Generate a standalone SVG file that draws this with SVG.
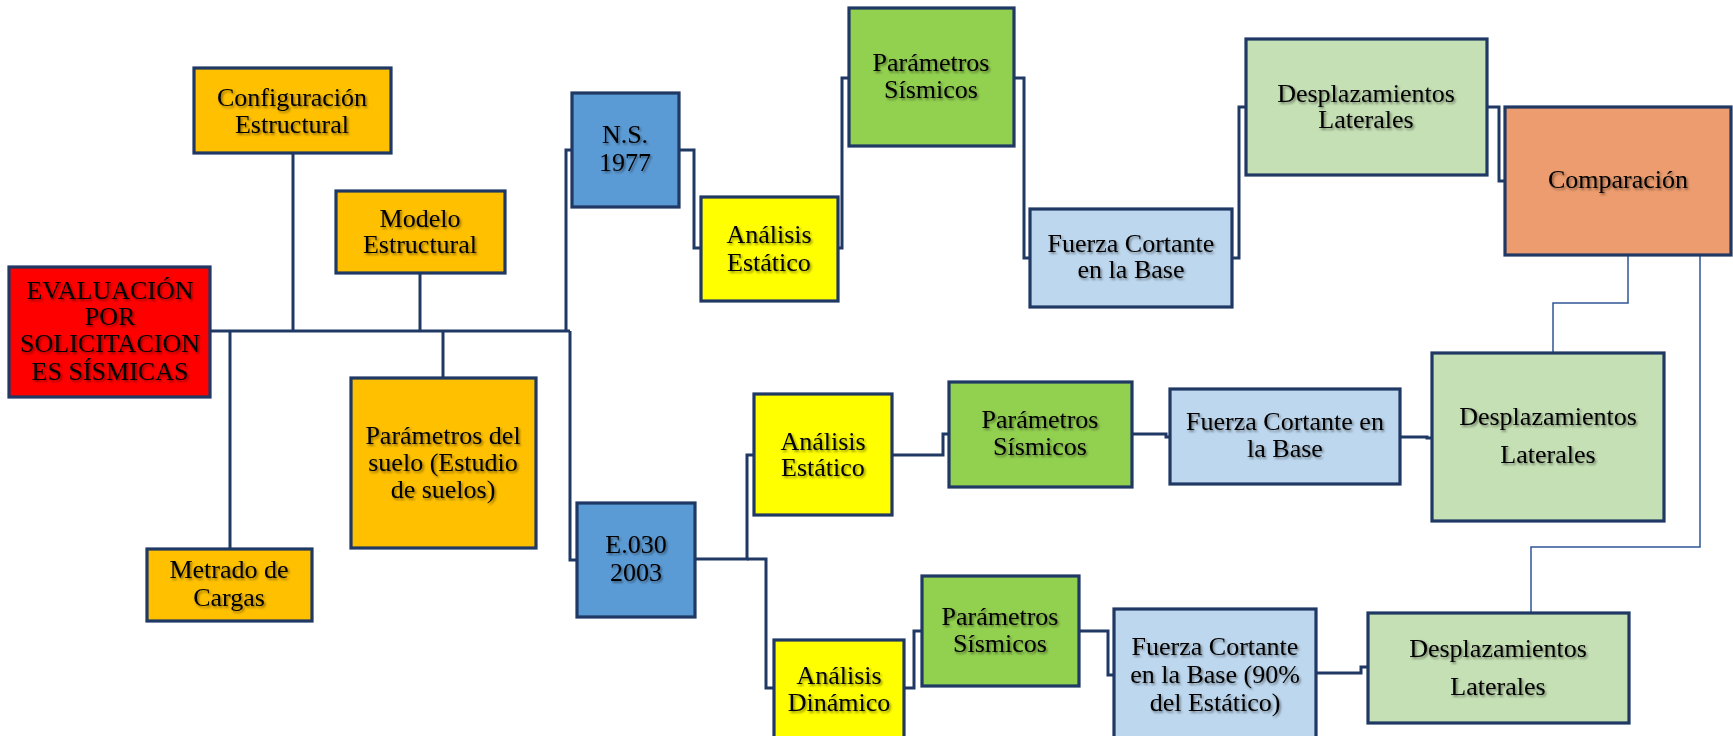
<svg xmlns="http://www.w3.org/2000/svg" width="1733" height="736" viewBox="0 0 1733 736">
<defs>
<filter id="sh" x="-10%" y="-20%" width="120%" height="150%">
<feDropShadow dx="1.5" dy="1.8" stdDeviation="1.2" flood-color="#000" flood-opacity="0.45"/>
</filter>
</defs>
<style>
.box{stroke:#1F3864;stroke-width:3.2}
.red{fill:#FF0000}.org{fill:#FFC000}.blu{fill:#5B9BD5}.yel{fill:#FFFF00}
.grn{fill:#92D050}.lbl{fill:#BDD7EE}.lgr{fill:#C5E0B4}.cmp{fill:#EC9C6E}
text{font-family:"Liberation Serif","Times New Roman",serif;font-size:26px;fill:#000;text-anchor:middle;filter:url(#sh)}
.c{fill:none;stroke:#1F3864;stroke-width:3}
.t{fill:none;stroke:#2F5597;stroke-width:1.5}
</style>
<g id="connectors">
<path class="c" d="M210,331 H570"/>
<path class="c" d="M293,153 V331"/>
<path class="c" d="M420,273 V331"/>
<path class="c" d="M230,331 V549"/>
<path class="c" d="M443,331 V378"/>
<path class="c" d="M566,331 V150 H572"/>
<path class="c" d="M570,331 V560 H577"/>
<path class="c" d="M679,150 H694 V248 H701"/>
<path class="c" d="M838,248 H842 V78 H849"/>
<path class="c" d="M1014,78 H1024 V258 H1030"/>
<path class="c" d="M1232,258 H1239 V107 H1246"/>
<path class="c" d="M1487,107 H1499 V181 H1505"/>
<path class="c" d="M695,559 H747 V455 H754"/>
<path class="c" d="M747,559 H766 V688 H774"/>
<path class="c" d="M892,455 H943 V434 H949"/>
<path class="c" d="M1132,434 H1166 V437 H1170"/>
<path class="c" d="M1400,437 H1427 V438 H1432"/>
<path class="c" d="M904,688 H914 V631 H922"/>
<path class="c" d="M1079,631 H1108 V675 H1114"/>
<path class="c" d="M1316,673 H1361 V667 H1368"/>
<path class="t" d="M1628,255 V303 H1553 V353"/>
<path class="t" d="M1700,255 V547 H1531 V613"/>
</g>
<g id="eval"><rect class="box red" x="9" y="267" width="201" height="130"/>
<text x="110" y="299">EVALUACIÓN</text><text x="110" y="325">POR</text><text x="110" y="352">SOLICITACION</text><text x="110" y="380">ES SÍSMICAS</text></g>
<g id="config"><rect class="box org" x="194" y="68" width="197" height="85"/>
<text x="292" y="106">Configuración</text><text x="292" y="133">Estructural</text></g>
<g id="modelo"><rect class="box org" x="336" y="191" width="169" height="82"/>
<text x="420" y="227">Modelo</text><text x="420" y="253">Estructural</text></g>
<g id="suelo"><rect class="box org" x="351" y="378" width="185" height="170"/>
<text x="443" y="444">Parámetros del</text><text x="443" y="471">suelo (Estudio</text><text x="443" y="498">de suelos)</text></g>
<g id="metrado"><rect class="box org" x="147" y="549" width="165" height="72"/>
<text x="229" y="578">Metrado de</text><text x="229" y="606">Cargas</text></g>
<g id="ns1977"><rect class="box blu" x="572" y="93" width="107" height="114"/>
<text x="625" y="143">N.S.</text><text x="625" y="171">1977</text></g>
<g id="e030"><rect class="box blu" x="577" y="503" width="118" height="114"/>
<text x="636" y="553">E.030</text><text x="636" y="581">2003</text></g>
<g id="ae1"><rect class="box yel" x="701" y="197" width="137" height="104"/>
<text x="769" y="243">Análisis</text><text x="769" y="271">Estático</text></g>
<g id="ps1"><rect class="box grn" x="849" y="8" width="165" height="138"/>
<text x="931" y="71">Parámetros</text><text x="931" y="98">Sísmicos</text></g>
<g id="fc1"><rect class="box lbl" x="1030" y="209" width="202" height="98"/>
<text x="1131" y="252">Fuerza Cortante</text><text x="1131" y="278">en la Base</text></g>
<g id="dl1"><rect class="box lgr" x="1246" y="39" width="241" height="136"/>
<text x="1366" y="102">Desplazamientos</text><text x="1366" y="128">Laterales</text></g>
<g id="comp"><rect class="box cmp" x="1505" y="107" width="226" height="148"/>
<text x="1618" y="188">Comparación</text></g>
<g id="ae2"><rect class="box yel" x="754" y="394" width="138" height="121"/>
<text x="823" y="450">Análisis</text><text x="823" y="476">Estático</text></g>
<g id="ps2"><rect class="box grn" x="949" y="382" width="183" height="105"/>
<text x="1040" y="428">Parámetros</text><text x="1040" y="455">Sísmicos</text></g>
<g id="fc2"><rect class="box lbl" x="1170" y="389" width="230" height="95"/>
<text x="1285" y="430">Fuerza Cortante en</text><text x="1285" y="457">la Base</text></g>
<g id="dl2"><rect class="box lgr" x="1432" y="353" width="232" height="168"/>
<text x="1548" y="425">Desplazamientos</text><text x="1548" y="463">Laterales</text></g>
<g id="ad"><rect class="box yel" x="774" y="640" width="130" height="110"/>
<text x="839" y="684">Análisis</text><text x="839" y="711">Dinámico</text></g>
<g id="ps3"><rect class="box grn" x="922" y="576" width="157" height="110"/>
<text x="1000" y="625">Parámetros</text><text x="1000" y="652">Sísmicos</text></g>
<g id="fc3"><rect class="box lbl" x="1114" y="609" width="202" height="140"/>
<text x="1215" y="655">Fuerza Cortante</text><text x="1215" y="683">en la Base (90%</text><text x="1215" y="711">del Estático)</text></g>
<g id="dl3"><rect class="box lgr" x="1368" y="613" width="261" height="110"/>
<text x="1498" y="657">Desplazamientos</text><text x="1498" y="695">Laterales</text></g>
</svg>
